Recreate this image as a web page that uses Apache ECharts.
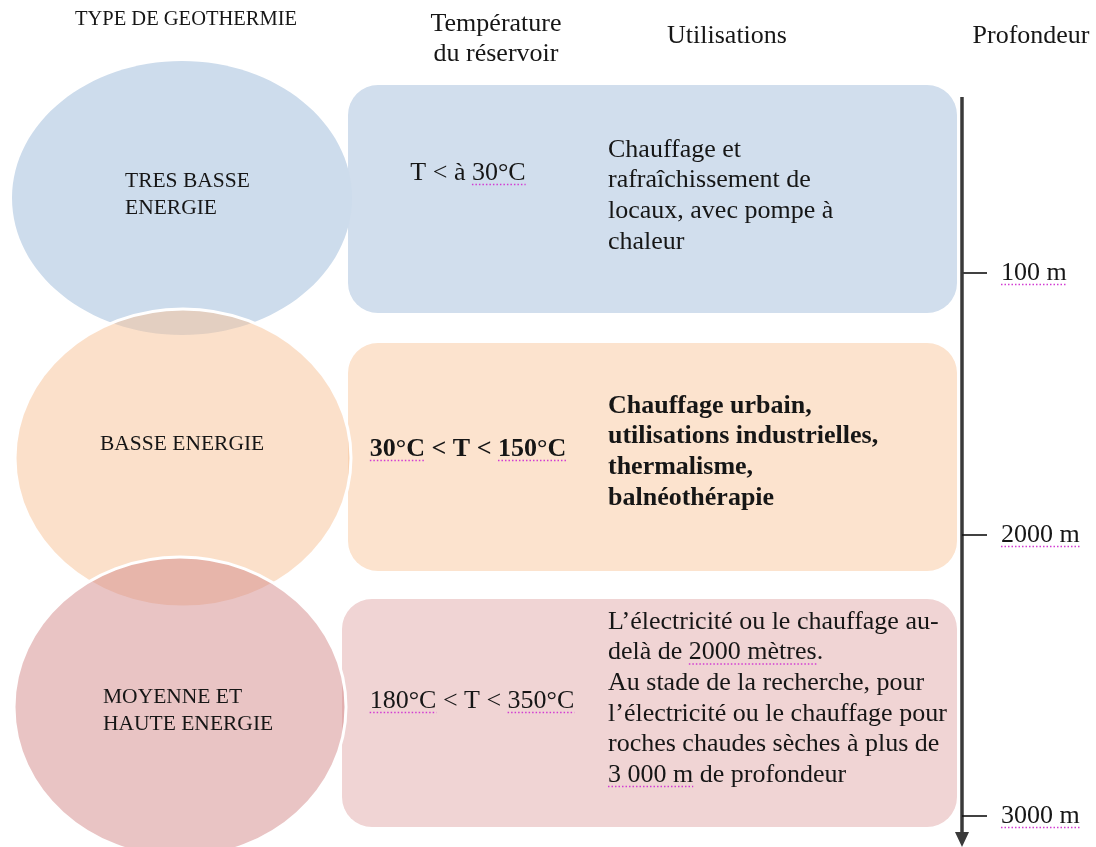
<!DOCTYPE html>
<html>
<head>
<meta charset="utf-8">
<script src="https://cdn.jsdelivr.net/npm/echarts@6/dist/echarts.min.js"></script>
<style>
html,body{margin:0;padding:0;background:#fff}
#main{width:1096px;height:847px}
</style>
</head>
<body>
<div id="main"></div>
<script>
// contenu du schéma
var headers = ['TYPE DE GEOTHERMIE', 'Température', 'du réservoir', 'Utilisations', 'Profondeur'];
var types = [['TRES BASSE', 'ENERGIE'], ['BASSE ENERGIE'], ['MOYENNE ET', 'HAUTE ENERGIE']];
var temperatures = ['T < à 30°C', '30°C < T < 150°C', '180°C < T < 350°C'];
var usages = [
    ['Chauffage et', 'rafraîchissement de', 'locaux, avec pompe à', 'chaleur'],
    ['Chauffage urbain,', 'utilisations industrielles,', 'thermalisme,', 'balnéothérapie'],
    ['L\u2019électricité ou le chauffage au-', 'delà de 2000 mètres.', 'Au stade de la recherche, pour',
     'l\u2019électricité ou le chauffage pour', 'roches chaudes sèches à plus de', '3 000 m de profondeur']
];
var depthTicks = ['100 m', '2000 m', '3000 m'];
// mots soulignés par le correcteur (pointillés roses)
var tempMarks = [['30°C'], ['30°C', '150°C'], ['180°C', '350°C']];
var usageMarks = [[], [], [[1, '2000 mètres'], [5, '3 000 m']]];

// mise en page (pixels)
var W = 1096, H = 847;
var circles = [[182, 198, 170, 137], [183, 458, 168, 149], [180, 707, 166, 150]];
var circleColors = ['#cddcec', 'rgba(247,195,153,0.52)', 'rgba(211,137,137,0.5)'];
var boxes = [[348, 85, 609, 228], [348, 343, 609, 228], [342, 599, 615, 228]];
var boxColors = ['#d1deed', '#fce3ce', '#f0d4d4'];
var typeLabelPos = [[125, 181], [100, 444], [103, 697]];
var tempPos = [[468, 173], [468, 449], [472, 701]];
var usageTop = [150, 406, 622];
var usageX = 608, lineStep = 30.6;
var depthY = [273, 535, 816];
var axisX = 962;
var font = '"Liberation Serif", "Times New Roman", serif';
var ink = '#161616';
var bodySize = 26, typeSize = 21.5;

var chartsbox = document.getElementById('main');
var mychart = echarts.init(chartsbox);

var measure = document.createElement('canvas').getContext('2d');
function fontOf(size, bold) {
    return (bold ? 'bold ' : '') + size + 'px ' + font;
}
function textW(s, size, bold) {
    measure.font = fontOf(size, bold);
    return measure.measureText(s).width;
}

function txt(p, s, size, align, bold) {
    return {
        type: 'text',
        style: {
            x: p[0], y: p[1], text: s, fill: ink,
            font: fontOf(size, bold),
            textAlign: align || 'left', textVerticalAlign: 'middle'
        }
    };
}

// pointillé rose sous un mot d'une ligne
function mark(p, line, word, size, align, bold) {
    var full = textW(line, size, bold);
    var x0 = align === 'center' ? p[0] - full / 2 : p[0];
    var idx = line.indexOf(word);
    var a = x0 + textW(line.slice(0, idx), size, bold);
    var b = a + textW(word, size, bold);
    var y = p[1] + size * 0.44;
    return {
        type: 'line',
        shape: {x1: a, y1: y, x2: b, y2: y},
        style: {stroke: '#d23cd2', lineWidth: 1.6, lineDash: [1.5, 2]}
    };
}

var option = {
    animation: false,
    grid: {left: 0, right: 0, top: 0, bottom: 0},
    xAxis: {type: 'value', min: 0, max: W, show: false},
    yAxis: {type: 'value', min: 0, max: H, inverse: true, show: false},
    series: [
        {
            // boîtes arrondies + textes
            type: 'custom',
            data: types.map(function (t, i) { return [i]; }),
            renderItem: function (params, api) {
                var i = api.value(0);
                var b = boxes[i];
                var p = api.coord([b[0], b[1]]);
                var s = api.size([b[2], b[3]]);
                var bold = i === 1;
                var children = [{
                    type: 'rect',
                    shape: {x: p[0], y: p[1], width: s[0], height: s[1], r: 30},
                    style: {fill: boxColors[i]}
                }];
                var tp = api.coord(tempPos[i]);
                children.push(txt(tp, temperatures[i], bodySize, 'center', bold));
                tempMarks[i].forEach(function (w) {
                    children.push(mark(tp, temperatures[i], w, bodySize, 'center', bold));
                });
                usages[i].forEach(function (line, k) {
                    children.push(txt(api.coord([usageX, usageTop[i] + k * lineStep]), line, bodySize, 'left', bold));
                });
                usageMarks[i].forEach(function (m) {
                    var lp = api.coord([usageX, usageTop[i] + m[0] * lineStep]);
                    children.push(mark(lp, usages[i][m[0]], m[1], bodySize, 'left', bold));
                });
                return {type: 'group', children: children};
            },
            z: 1
        },
        {
            // cercles du type de géothermie
            type: 'custom',
            data: types.map(function (t, i) { return [i]; }),
            renderItem: function (params, api) {
                var i = api.value(0);
                var c = circles[i];
                var p = api.coord([c[0], c[1]]);
                var s = api.size([c[2], c[3]]);
                var children = [{
                    type: 'ellipse',
                    shape: {cx: p[0], cy: p[1], rx: s[0], ry: s[1]},
                    style: {fill: circleColors[i], stroke: i === 0 ? null : '#ffffff', lineWidth: 3}
                }];
                types[i].forEach(function (line, k) {
                    var lp = typeLabelPos[i];
                    children.push(txt(api.coord([lp[0], lp[1] + k * 27]), line, typeSize, 'left'));
                });
                return {type: 'group', children: children};
            },
            z: 2
        },
        {
            // axe de profondeur
            type: 'custom',
            data: depthTicks.map(function (t, i) { return [i]; }),
            renderItem: function (params, api) {
                var i = api.value(0);
                var y = depthY[i];
                var t0 = api.coord([axisX, y]), t1 = api.coord([axisX + 25, y]);
                var lp = api.coord([1001, y]);
                var children = [
                    {type: 'line', shape: {x1: t0[0], y1: t0[1], x2: t1[0], y2: t1[1]},
                        style: {stroke: '#111', lineWidth: 1.6}},
                    txt(lp, depthTicks[i], bodySize, 'left'),
                    mark(lp, depthTicks[i], depthTicks[i], bodySize, 'left')
                ];
                if (i === 0) {
                    var a = api.coord([axisX, 97]), b = api.coord([axisX, 834]);
                    children.push({type: 'line', shape: {x1: a[0], y1: a[1], x2: b[0], y2: b[1]},
                        style: {stroke: '#3a3a3a', lineWidth: 3.5}});
                    children.push({type: 'polygon',
                        shape: {points: [api.coord([axisX - 7, 832]), api.coord([axisX + 7, 832]), api.coord([axisX, 847])]},
                        style: {fill: '#3a3a3a'}});
                }
                return {type: 'group', children: children};
            },
            z: 3
        }
    ],
    graphic: [
        {type: 'text', x: 186, y: 20, style: {text: headers[0], font: fontOf(20.5), fill: ink,
            textAlign: 'center', textVerticalAlign: 'middle'}},
        {type: 'text', x: 496, y: 24, style: {text: headers[1], font: fontOf(bodySize), fill: ink,
            textAlign: 'center', textVerticalAlign: 'middle'}},
        {type: 'text', x: 496, y: 54, style: {text: headers[2], font: fontOf(bodySize), fill: ink,
            textAlign: 'center', textVerticalAlign: 'middle'}},
        {type: 'text', x: 727, y: 36, style: {text: headers[3], font: fontOf(bodySize), fill: ink,
            textAlign: 'center', textVerticalAlign: 'middle'}},
        {type: 'text', x: 1031, y: 36, style: {text: headers[4], font: fontOf(bodySize), fill: ink,
            textAlign: 'center', textVerticalAlign: 'middle'}}
    ]
};
mychart.setOption(option, true);
</script>
</body>
</html>
